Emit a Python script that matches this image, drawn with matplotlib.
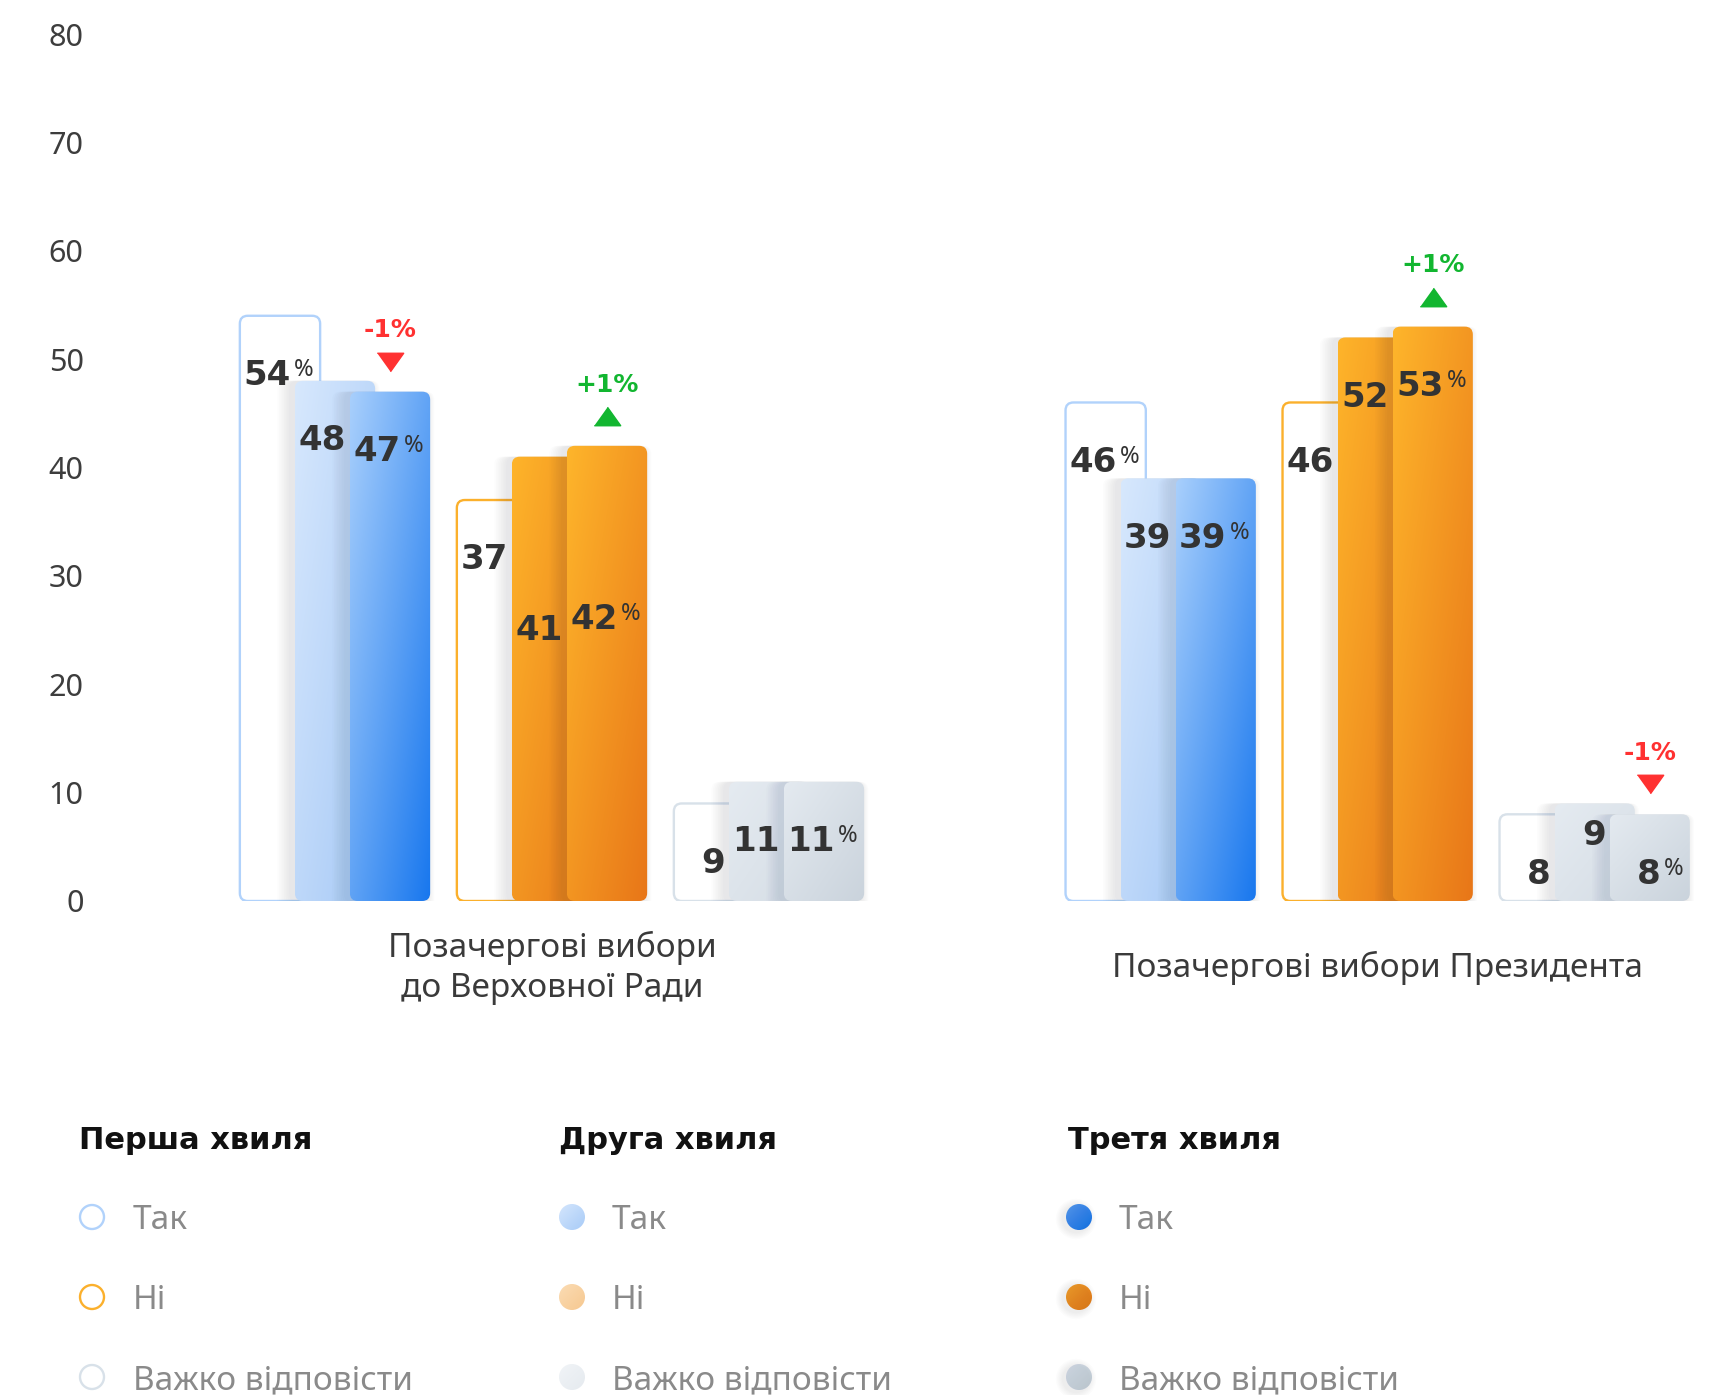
import matplotlib.pyplot as plt
import numpy as np
from matplotlib.patches import FancyBboxPatch, Circle
from matplotlib.colors import to_rgb

plt.rcParams["font.family"] = ["Noto Sans", "DejaVu Sans"]
BOLD = ["DejaVu Sans"]

# data (values in %), indexed [group][answer]
groups = ["Позачергові вибори\nдо Верховної Ради", "Позачергові вибори Президента"]
answers = ["Так", "Ні", "Важко відповісти"]
waves = ["Перша хвиля", "Друга хвиля", "Третя хвиля"]
wave1 = [[54, 37, 9], [46, 46, 8]]
wave2 = [[48, 41, 11], [39, 52, 9]]
wave3 = [[47, 42, 11], [39, 53, 8]]
yticks = [0, 10, 20, 30, 40, 50, 60, 70, 80]

# colours per answer: outline (wave 1), gradient start/end for waves 2 and 3
outline_col = ["#b1d2fb", "#fbb02c", "#d8e1e9"]
wave2_grad = [("#d7e8fd", "#a5c8f6"), ("#feb42a", "#e8791a"), ("#e5ebf1", "#d5dde5")]
wave3_grad = [("#a8cffc", "#1877ee"), ("#feb52b", "#e87618"), ("#e4eaf0", "#cad3dc")]
legend_w2 = [("#d4e6fd", "#a8cbf7"), ("#fbdcb4", "#f6c890"), ("#f1f4f7", "#e5eaef")]
legend_w3 = [("#5aa2f7", "#1773ea"), ("#fba62a", "#e87a17"), ("#dfe5eb", "#c6cfd8")]
up_col, down_col = "#12b630", "#ff3131"
text_col = "#333333"

W, H = 1718, 1395
fig = plt.figure(figsize=(W / 100, H / 100), dpi=100)
ax_l, ax_b, ax_t = 110, 901, 34
ax = fig.add_axes([ax_l / W, 1 - ax_b / H, 1 - ax_l / W, (ax_b - ax_t) / H])

px_x = 217.0                    # pixels per x unit
px_y = (ax_b - ax_t) / 80.0     # pixels per y unit
xmin = -(335 - ax_l) / px_x
xmax = xmin + (W - ax_l) / px_x
group_gap = 3.805
bar_w = 0.37
step = 0.2535
rr = 8 / px_x
asp = px_x / px_y

# extra shift of value labels (y units, positive = lower) where they were moved
label_drop = {(0, 1, 1): 10.5, (0, 1, 2): 10.5, (1, 2, 1): -2.6}


def grad_img(c0, c1, n=64):
    u, v = np.meshgrid(np.linspace(0, 1, n), np.linspace(0, 1, n))
    t = (u + v) / 2
    a, b = np.array(to_rgb(c0)), np.array(to_rgb(c1))
    return a + t[..., None] * (b - a)


def rbox(x0, y0, w, h, **kw):
    return FancyBboxPatch((x0, y0), w, h, boxstyle=f"round,pad=0,rounding_size={rr}",
                          mutation_aspect=asp, **kw)


def shadow(x0, h, z):
    for k in range(1, 9):
        ex, ey = k * 1.7 / px_x, k * 1.7 / px_y
        ax.add_patch(rbox(x0 - ex - 4 / px_x, -ey * 0.6, bar_w + 1.6 * ex, h + ey * 0.6,
                          fc="#1b2b44", ec="none", alpha=0.013, zorder=z))


def gradient_bar(x0, h, cols, z):
    patch = rbox(x0, 0, bar_w, h, fc="none", ec="none", zorder=z)
    ax.add_patch(patch)
    im = ax.imshow(grad_img(*cols), extent=[x0, x0 + bar_w, 0, h], origin="upper",
                   aspect="auto", interpolation="bilinear", zorder=z)
    im.set_clip_path(patch)


all_waves = [wave1, wave2, wave3]
for g in range(len(groups)):
    for a in range(len(answers)):
        pos = g * group_gap + a
        for w in range(3):
            val = all_waves[w][g][a]
            x0 = pos + (w - 1) * step - bar_w / 2
            z = 2 + 3 * w
            if w == 0:
                ax.add_patch(rbox(x0, 0, bar_w, val, fc="white", ec=outline_col[a], lw=1.7, zorder=z))
            else:
                shadow(x0, val, z)
                gradient_bar(x0, val, (wave2_grad if w == 1 else wave3_grad)[a], z + 1)

            # value label
            yc = val - 5.2 - label_drop.get((g, a, w), 0)
            base = yc - 1.2
            ax.text(x0 + 0.235, base, str(val), ha="right", va="baseline", fontsize=24.5,
                    family=BOLD, fontweight="bold", color=text_col, zorder=20)
            if w == 2 or (w == 0 and a == 0):
                ax.text(x0 + 0.25, base + 0.8, "%", ha="left", va="baseline", fontsize=17,
                        color=text_col, zorder=20)

        # change between second and third wave
        d = wave3[g][a] - wave2[g][a]
        if d != 0:
            col = up_col if d > 0 else down_col
            xc = pos + step
            top = wave3[g][a]
            tri = [(-1, -0.7), (1, -0.7), (0, 0.7)] if d > 0 else [(-1, 0.7), (1, 0.7), (0, -0.7)]
            ax.plot([xc], [top + 2.75], marker=tri, ms=19, color=col, ls="none",
                    clip_on=False, zorder=20)
            ax.text(xc, top + 5.0, f"{d:+d}%", ha="center", va="baseline", fontsize=18,
                    family=BOLD, fontweight="bold", color=col, zorder=20)

    ax.text(g * group_gap + 1, -(968 - ax_b) / (ax_b - ax_t), groups[g],
            transform=ax.get_xaxis_transform(), ha="center", va="center",
            multialignment="center", fontsize=24, color="#3a3a3a", linespacing=1.25)

ax.set_xlim(xmin, xmax)
ax.set_ylim(0, 80)
ax.set_yticks(yticks)
ax.set_xticks([])
ax.tick_params(axis="y", length=0, pad=19, labelsize=22, labelcolor="#3d3d3d")
for s in ax.spines.values():
    s.set_visible(False)
ax.set_facecolor("none")

# legend drawn in pixel coordinates
lax = fig.add_axes([0, 0, 1, 1], zorder=-1)
lax.set_xlim(0, W)
lax.set_ylim(H, 0)
lax.axis("off")

head_x = [79, 559, 1068]
mark_x = [92, 572, 1079]
text_x = [133, 612, 1119]
head_y = 1137
row_y = [1217, 1297, 1377]
r = 13
for w in range(3):
    lax.text(head_x[w], head_y + 12, waves[w], ha="left", va="baseline", fontsize=22,
             family=BOLD, fontweight="bold", color="#111111")
    for a in range(3):
        cx, cy = mark_x[w], row_y[a]
        if w == 0:
            lax.add_patch(Circle((cx, cy), r - 1, fc="white", ec=outline_col[a], lw=1.7))
        else:
            if w == 2:
                for k in range(1, 7):
                    lax.add_patch(Circle((cx - 3, cy + 2), r + k * 1.2, fc="#1b2b44",
                                         ec="none", alpha=0.012))
            c = Circle((cx, cy), r, fc="none", ec="none")
            lax.add_patch(c)
            cols = (legend_w2 if w == 1 else legend_w3)[a]
            im = lax.imshow(grad_img(*cols), extent=[cx - r, cx + r, cy + r, cy - r],
                            origin="upper", aspect="auto", interpolation="bilinear")
            im.set_clip_path(c)
        lax.text(text_x[w], cy + 12, answers[a], ha="left", va="baseline", fontsize=24,
                 color="#8a8a8a")
lax.set_xlim(0, W)
lax.set_ylim(H, 0)

fig.savefig("out.png", dpi=100)
